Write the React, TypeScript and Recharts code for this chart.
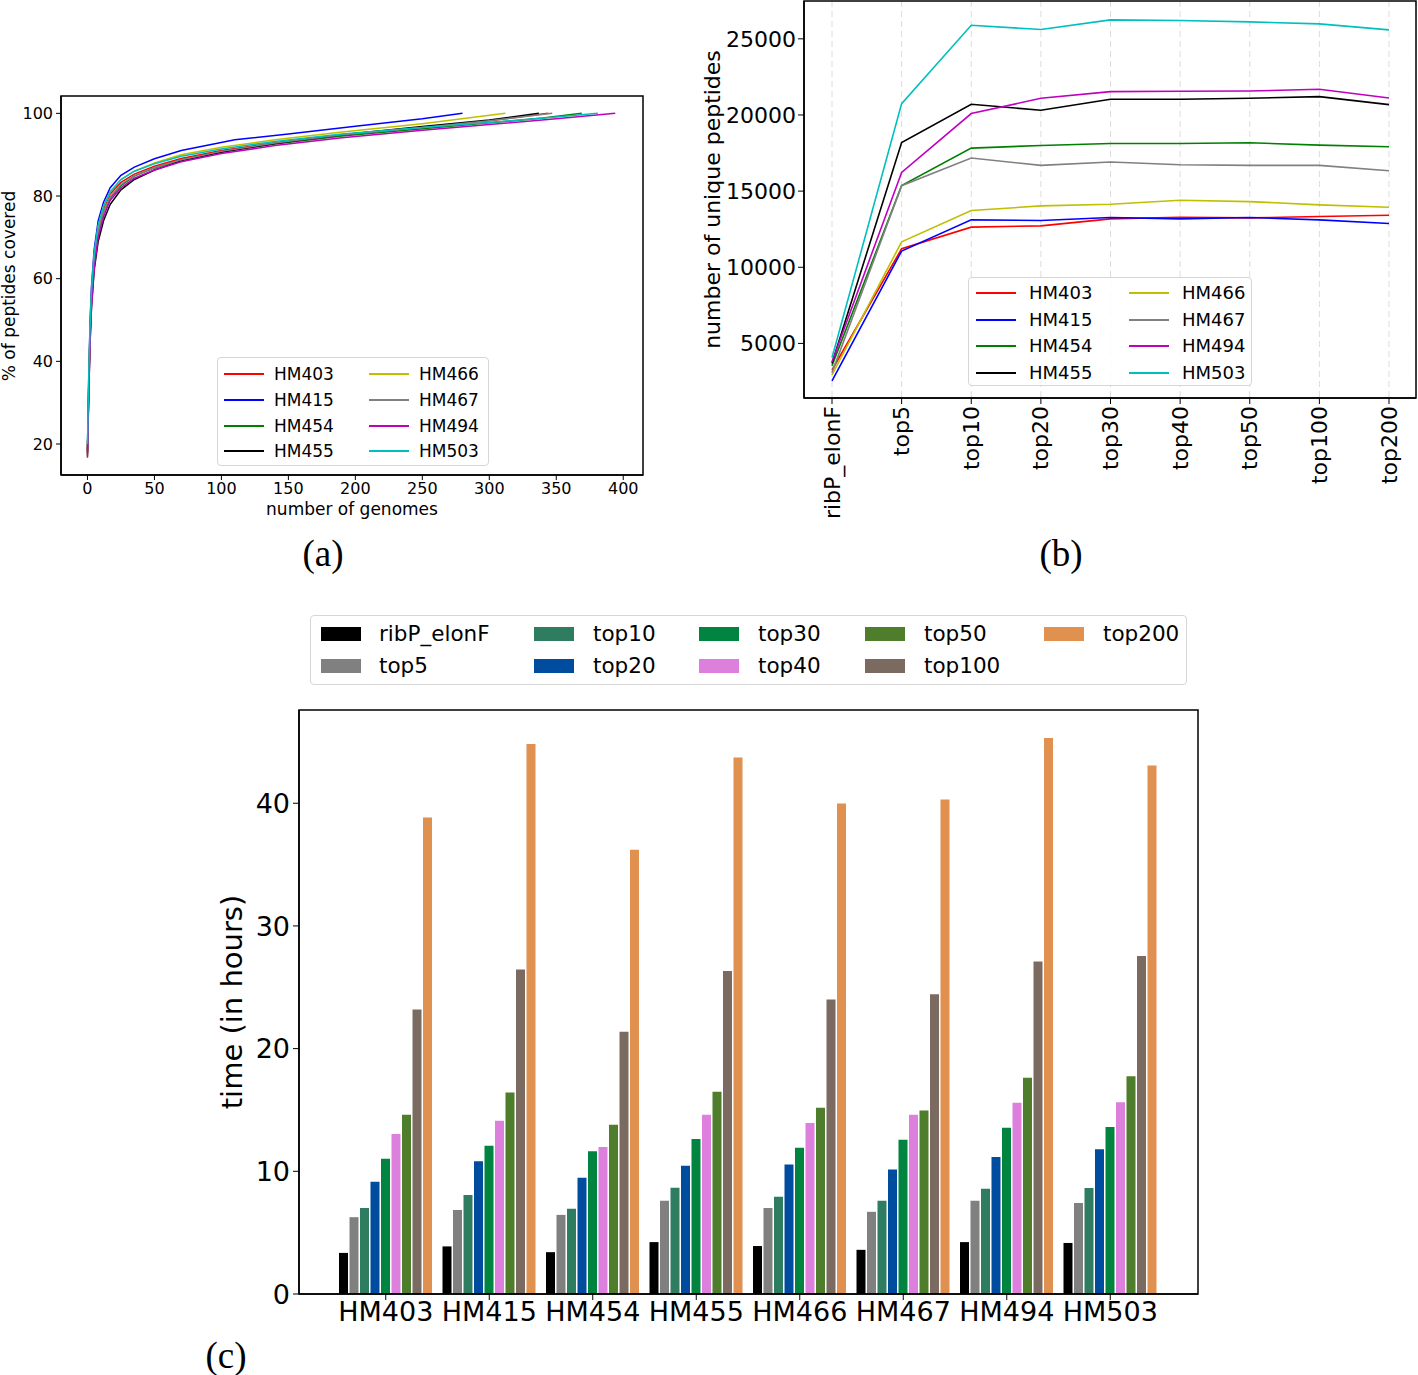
import React from 'react';
import { LineChart, Line, XAxis, YAxis, CartesianGrid, BarChart, Bar } from 'recharts';

const FONT = '"DejaVu Sans", "Noto Sans", sans-serif';

// ---------- shared ----------
const strains = ['HM403', 'HM415', 'HM454', 'HM455', 'HM466', 'HM467', 'HM494', 'HM503'];
const strainColors = ['#ff0000', '#0000ff', '#008000', '#000000', '#bfbf00', '#808080', '#bf00bf', '#00bfbf'];

// ---------- panel (a): % of peptides covered vs number of genomes ----------
const genomesHM403 = [0, 1, 2, 3, 5, 8, 12, 17, 25, 35, 50, 70, 100, 140, 190, 250, 300, 344];
const coveredHM403 = [17.5, 35, 48, 56, 65, 72, 77, 80.5, 83.3, 85.3, 87.2, 89.1, 91, 92.9, 94.8, 96.6, 98.2, 100];
const genomesHM415 = [0, 1, 2, 3, 5, 8, 12, 17, 25, 35, 50, 70, 110, 150, 200, 250, 280];
const coveredHM415 = [18.5, 37, 50, 58, 67, 74, 78.5, 82, 85, 87, 89, 91, 93.6, 95, 96.9, 98.7, 100];
const genomesHM454 = [0, 1, 2, 3, 5, 8, 12, 17, 25, 35, 50, 70, 100, 140, 190, 250, 300, 340, 369];
const coveredHM454 = [17, 34, 47, 55, 64, 71, 76, 79.5, 82.5, 84.8, 86.8, 88.8, 90.7, 92.6, 94.5, 96.3, 97.7, 98.9, 100];
const genomesHM455 = [0, 1, 2, 3, 5, 8, 12, 17, 25, 35, 50, 70, 100, 140, 190, 250, 300, 337];
const coveredHM455 = [18, 33, 45, 53, 62, 69, 74, 78, 81.5, 84, 86.3, 88.5, 90.6, 92.7, 94.8, 96.8, 98.4, 100];
const genomesHM466 = [0, 1, 2, 3, 5, 8, 12, 17, 25, 35, 50, 70, 100, 140, 190, 250, 312];
const coveredHM466 = [17.5, 35, 48, 56, 65.5, 72.5, 77.5, 81, 84, 86, 88, 90, 91.8, 93.6, 95.5, 97.5, 100];
const genomesHM467 = [0, 1, 2, 3, 5, 8, 12, 17, 25, 35, 50, 70, 100, 140, 190, 250, 300, 347];
const coveredHM467 = [18, 34, 47, 55, 64, 71, 76, 79.8, 82.8, 84.9, 86.9, 88.8, 90.8, 92.8, 94.8, 96.6, 98.2, 100];
const genomesHM494 = [0, 1, 2, 3, 5, 8, 12, 17, 25, 35, 50, 70, 100, 140, 190, 250, 300, 350, 394];
const coveredHM494 = [16.7, 32, 45, 53, 62.5, 70, 75, 79, 82, 84.3, 86.3, 88.3, 90.3, 92.2, 94.1, 95.9, 97.3, 98.7, 100];
const genomesHM503 = [0, 1, 2, 3, 5, 8, 12, 17, 25, 35, 50, 70, 100, 140, 190, 250, 300, 350, 381];
const coveredHM503 = [20, 37, 49, 57, 66, 73, 77.5, 81, 84, 86, 87.8, 89.6, 91.4, 93.2, 95, 96.6, 97.8, 99.1, 100];

const genomeTicks = [0, 50, 100, 150, 200, 250, 300, 350, 400];
const coverTicks = [20, 40, 60, 80, 100];

const curvePairs: [number[], number[]][] = [
  [genomesHM403, coveredHM403],
  [genomesHM415, coveredHM415],
  [genomesHM454, coveredHM454],
  [genomesHM455, coveredHM455],
  [genomesHM466, coveredHM466],
  [genomesHM467, coveredHM467],
  [genomesHM494, coveredHM494],
  [genomesHM503, coveredHM503],
];
const curveData = curvePairs.map(([g, c]) => g.map((n, i) => ({ n, pct: c[i] })));

// ---------- panel (b): number of unique peptides ----------
const peptideCats = ['ribP_elonF', 'top5', 'top10', 'top20', 'top30', 'top40', 'top50', 'top100', 'top200'];
const peptidesHM403 = [3255, 11216, 12634, 12721, 13179, 13289, 13245, 13332, 13419];
const peptidesHM415 = [2536, 11063, 13114, 13071, 13267, 13179, 13267, 13114, 12874];
const peptidesHM454 = [3539, 15360, 17824, 17999, 18130, 18130, 18174, 18021, 17912];
const peptidesHM455 = [3690, 18195, 20703, 20311, 21030, 21030, 21096, 21205, 20682];
const peptidesHM466 = [2929, 11674, 13724, 14030, 14138, 14400, 14313, 14095, 13942];
const peptidesHM467 = [3081, 15360, 17170, 16690, 16908, 16734, 16690, 16690, 16341];
const peptidesHM494 = [3800, 16232, 20093, 21096, 21532, 21554, 21576, 21685, 21118];
const peptidesHM503 = [4062, 20747, 25894, 25611, 26243, 26200, 26112, 25981, 25589];
const peptideTicks = [5000, 10000, 15000, 20000, 25000];

const peptideSeries = [peptidesHM403, peptidesHM415, peptidesHM454, peptidesHM455, peptidesHM466, peptidesHM467, peptidesHM494, peptidesHM503];
const peptideRows = peptideCats.map((cat, i) => {
  const row: Record<string, any> = { cat };
  strains.forEach((s, k) => { row[s] = peptideSeries[k][i]; });
  return row;
});

// ---------- panel (c): time in hours ----------
const timeKeys = ['ribP_elonF', 'top5', 'top10', 'top20', 'top30', 'top40', 'top50', 'top100', 'top200'];
const timeColors = ['#000000', '#808080', '#2e7d61', '#004c9e', '#00843f', '#dd80dd', '#4e7d2b', '#7a6a5f', '#e0904f'];
const timeRibP = [3.35, 3.88, 3.41, 4.23, 3.91, 3.6, 4.23, 4.16];
const timeTop5 = [6.26, 6.85, 6.45, 7.61, 7.01, 6.7, 7.61, 7.42];
const timeTop10 = [7.01, 8.07, 6.95, 8.67, 7.92, 7.61, 8.58, 8.64];
const timeTop20 = [9.14, 10.83, 9.48, 10.45, 10.55, 10.14, 11.17, 11.8];
const timeTop30 = [11.02, 12.08, 11.64, 12.64, 11.92, 12.58, 13.55, 13.61];
const timeTop40 = [13.05, 14.12, 11.99, 14.62, 13.93, 14.62, 15.59, 15.62];
const timeTop50 = [14.62, 16.43, 13.8, 16.49, 15.18, 14.96, 17.62, 17.75];
const timeTop100 = [23.19, 26.45, 21.38, 26.32, 24.0, 24.44, 27.1, 27.54];
const timeTop200 = [38.84, 44.82, 36.21, 43.72, 39.97, 40.31, 45.32, 43.07];
const timeTicks = [0, 10, 20, 30, 40];

const timeSeries = [timeRibP, timeTop5, timeTop10, timeTop20, timeTop30, timeTop40, timeTop50, timeTop100, timeTop200];
const timeRows = strains.map((strain, i) => {
  const row: Record<string, any> = { strain };
  timeKeys.forEach((k, j) => { row[k] = timeSeries[j][i]; });
  return row;
});

// ---------- helpers ----------
const vLabel = (text: string, x: number, y: number, size: number) => ({
  content: () => (
    <text x={x} y={y} transform={`rotate(-90 ${x} ${y})`} textAnchor="middle" dominantBaseline="central"
      fontSize={size} fontFamily={FONT} fill="#000">{text}</text>
  ),
});
const hLabel = (text: string, x: number, y: number, size: number) => ({
  content: () => (
    <text x={x} y={y} textAnchor="middle" dominantBaseline="central" fontSize={size} fontFamily={FONT} fill="#000">{text}</text>
  ),
});

const RotTick = (props: any) => {
  const { x, y, payload } = props;
  return (
    <text x={x} y={y} transform={`rotate(-90 ${x} ${y})`} textAnchor="end" dominantBaseline="central"
      fontSize={22} fontFamily={FONT} fill="#000">{payload.value}</text>
  );
};

const frame = { stroke: '#000', strokeWidth: 1.5 };

type LegItem = { label: string; color: string; col: number; row: number };

function LineLegend(p: { left: number; top: number; width: number; height: number; items: LegItem[]; colStep: number; rowY: number[]; handleX: number; textX: number; fontSize: number }) {
  return (
    <div style={{ position: 'absolute', left: p.left, top: p.top, width: p.width, height: p.height, border: '1px solid #d6d6d6', borderRadius: 4, background: 'rgba(255,255,255,0.85)', boxSizing: 'border-box' }}>
      {p.items.map((it) => (
        <React.Fragment key={it.label}>
          <div style={{ position: 'absolute', left: p.handleX + it.col * p.colStep, top: p.rowY[it.row] - 1, width: 40, height: 2, background: it.color }} />
          <div style={{ position: 'absolute', left: p.textX + it.col * p.colStep, top: p.rowY[it.row] - p.fontSize * 0.6, fontSize: p.fontSize, lineHeight: `${p.fontSize * 1.2}px`, fontFamily: FONT, color: '#000', whiteSpace: 'nowrap' }}>{it.label}</div>
        </React.Fragment>
      ))}
    </div>
  );
}

const lineLegendItems: LegItem[] = strains.map((s, i) => ({ label: s, color: strainColors[i], col: Math.floor(i / 4), row: i % 4 }));

const barLegendCols = [
  { handle: 10, text: 68 },
  { handle: 223, text: 282 },
  { handle: 388, text: 447 },
  { handle: 554, text: 613 },
  { handle: 733, text: 792 },
];

const SERIF = '"Liberation Serif", "DejaVu Serif", serif';

export default function App() {
  return (
    <div style={{ position: 'absolute', left: 0, top: 0, width: 1418, height: 1375, background: '#fff', fontFamily: FONT }}>
      {/* Panel (a) */}
      <div style={{ position: 'absolute', left: 0, top: 80 }}>
        <LineChart width={660} height={450} margin={{ top: 16, right: 17, left: 0, bottom: 0 }}>
          <XAxis dataKey="n" type="number" domain={[-19.75, 414.75]} ticks={genomeTicks} interval={0} allowDataOverflow
            height={55} tickSize={5} tickMargin={3} axisLine={frame} tickLine={{ stroke: '#000' }}
            tick={{ fill: '#000', fontSize: 16, fontFamily: FONT }}
            label={hLabel('number of genomes', 352, 429, 17)} />
          <YAxis type="number" domain={[12.5, 104.2]} ticks={coverTicks} interval={0} allowDataOverflow width={61}
            tickSize={5} tickMargin={3} axisLine={frame} tickLine={{ stroke: '#000' }}
            tick={{ fill: '#000', fontSize: 16, fontFamily: FONT }}
            label={vLabel('% of peptides covered', 9, 206, 17)} />
          {strains.map((s, i) => (
            <Line key={s} data={curveData[i]} dataKey="pct" name={s} type="linear" stroke={strainColors[i]} strokeWidth={1.5}
              dot={false} isAnimationActive={false} />
          ))}
        </LineChart>
      </div>
      <LineLegend left={217} top={357} width={272} height={109} items={lineLegendItems} colStep={145}
        rowY={[16, 42, 68, 93]} handleX={6} textX={56} fontSize={17} />

      {/* Panel (b) */}
      <div style={{ position: 'absolute', left: 690, top: 0 }}>
        <LineChart width={728} height={520} data={peptideRows} margin={{ top: 1, right: 2, left: 0, bottom: 0 }}>
          <CartesianGrid horizontal={false} vertical stroke="#dcdcdc" strokeDasharray="6 4" />
          <XAxis dataKey="cat" padding={{ left: 28, right: 27 }} interval={0} height={122} tickSize={6} tickMargin={2}
            axisLine={frame} tickLine={{ stroke: '#000' }} tick={<RotTick />} />
          <YAxis type="number" domain={[1415, 27485]} ticks={peptideTicks} interval={0} allowDataOverflow width={114}
            tickSize={6} tickMargin={2} axisLine={frame} tickLine={{ stroke: '#000' }}
            tick={{ fill: '#000', fontSize: 22, fontFamily: FONT }}
            label={vLabel('number of unique peptides', 22, 199.5, 22)} />
          {strains.map((s, i) => (
            <Line key={s} dataKey={s} name={s} type="linear" stroke={strainColors[i]} strokeWidth={1.6}
              dot={false} isAnimationActive={false} />
          ))}
        </LineChart>
      </div>
      <LineLegend left={968} top={277} width={284} height={109} items={lineLegendItems} colStep={153}
        rowY={[15, 42, 68, 95]} handleX={7} textX={60} fontSize={18} />

      {/* Panel (c) legend */}
      <div style={{ position: 'absolute', left: 310, top: 615, width: 877, height: 70, border: '1px solid #d6d6d6', borderRadius: 4, background: '#fff', boxSizing: 'border-box' }}>
        {timeKeys.map((k, j) => {
          const col = barLegendCols[Math.floor(j / 2)];
          const rowY = j % 2 === 0 ? 18 : 50;
          return (
            <React.Fragment key={k}>
              <div style={{ position: 'absolute', left: col.handle, top: rowY - 7, width: 40, height: 14, background: timeColors[j] }} />
              <div style={{ position: 'absolute', left: col.text, top: rowY - 13, fontSize: 21.5, lineHeight: '26px', fontFamily: FONT, color: '#000', whiteSpace: 'nowrap' }}>{k}</div>
            </React.Fragment>
          );
        })}
      </div>

      {/* Panel (c) */}
      <div style={{ position: 'absolute', left: 200, top: 700 }}>
        <BarChart width={1010} height={650} data={timeRows} margin={{ top: 10, right: 12, left: 0, bottom: 0 }}
          barCategoryGap={5} barGap={1.5}>
          <XAxis dataKey="strain" padding={{ left: 35, right: 36 }} interval={0} height={56} tickSize={6} tickMargin={2}
            axisLine={frame} tickLine={{ stroke: '#000' }} tick={{ fill: '#000', fontSize: 27, fontFamily: FONT }} />
          <YAxis type="number" domain={[0, 47.6]} ticks={timeTicks} interval={0} allowDataOverflow width={99}
            tickSize={6} tickMargin={3} axisLine={frame} tickLine={{ stroke: '#000' }}
            tick={{ fill: '#000', fontSize: 27, fontFamily: FONT }}
            label={vLabel('time (in hours)', 32, 302, 29)} />
          {timeKeys.map((k, j) => (
            <Bar key={k} dataKey={k} name={k} fill={timeColors[j]} isAnimationActive={false} />
          ))}
        </BarChart>
      </div>

      {/* Plot frames and captions */}
      <svg width={1418} height={1375} style={{ position: 'absolute', left: 0, top: 0, pointerEvents: 'none' }}>
        <rect x={61} y={96} width={582} height={379} fill="none" stroke="#000" strokeWidth={1.5} />
        <rect x={804} y={1} width={612} height={397} fill="none" stroke="#000" strokeWidth={1.5} />
        <rect x={299} y={710} width={899} height={584} fill="none" stroke="#000" strokeWidth={1.5} />
        <text x={323} y={553} textAnchor="middle" dominantBaseline="central" fontSize={37} fontFamily={SERIF} fill="#000">(a)</text>
        <text x={1061} y={553} textAnchor="middle" dominantBaseline="central" fontSize={37} fontFamily={SERIF} fill="#000">(b)</text>
        <text x={226} y={1355} textAnchor="middle" dominantBaseline="central" fontSize={37} fontFamily={SERIF} fill="#000">(c)</text>
      </svg>
    </div>
  );
}
